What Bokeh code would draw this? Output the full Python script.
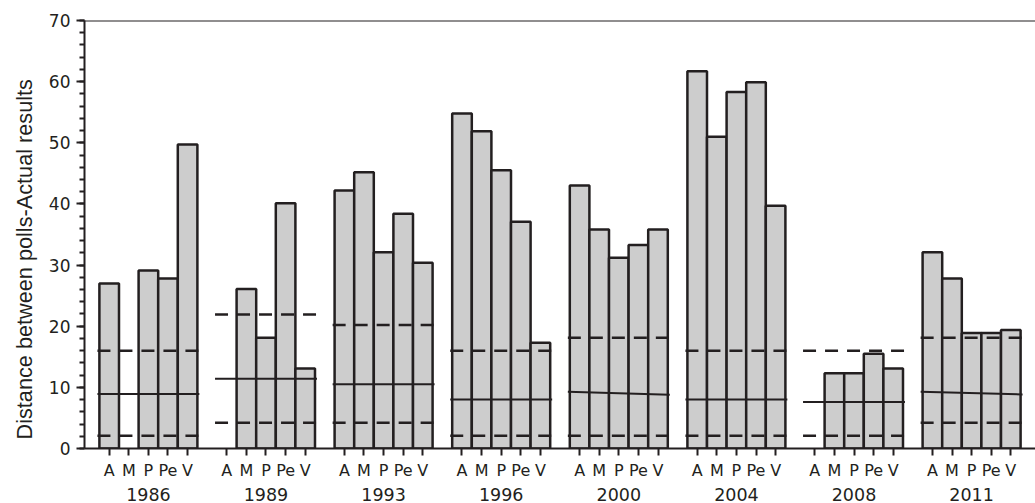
from bokeh.plotting import figure
from bokeh.models import FactorRange, Span, Range1d, SingleIntervalTicker, Title
from bokeh.embed import file_html
from bokeh.resources import INLINE

# ---- data ----
years = ["1986", "1989", "1993", "1996", "2000", "2004", "2008", "2011"]
parties = ["A", "M", "P", "Pe", "V"]

v1986 = [27.0, 0.0, 29.1, 27.8, 49.7]
v1989 = [0.0, 26.1, 18.1, 40.1, 13.1]
v1993 = [42.2, 45.2, 32.1, 38.4, 30.4]
v1996 = [54.8, 51.9, 45.5, 37.1, 17.3]
v2000 = [43.0, 35.8, 31.2, 33.3, 35.8]
v2004 = [61.7, 51.0, 58.3, 59.9, 39.7]
v2008 = [0.0, 12.3, 12.3, 15.5, 13.1]
v2011 = [32.1, 27.8, 18.9, 18.9, 19.4]
values = [v1986, v1989, v1993, v1996, v2000, v2004, v2008, v2011]

# reference lines per election (solid line start/end, dashed upper/lower)
mean_start = [8.9, 11.4, 10.5, 8.0, 9.3, 8.0, 7.6, 9.3]
mean_end = [8.9, 11.4, 10.5, 8.0, 8.8, 8.0, 7.6, 8.85]
upper = [16.0, 21.9, 20.2, 16.0, 18.1, 16.0, 16.0, 18.1]
lower = [2.1, 4.2, 4.2, 2.1, 2.1, 2.1, 2.1, 4.2]

y_title = "Distance between polls-Actual results"

INK = "#231f20"

factors = [(y, p) for y in years for p in parties]

bar_x, bar_top = [], []
for y, vals in zip(years, values):
    for p_, v in zip(parties, vals):
        if v > 0:
            bar_x.append((y, p_))
            bar_top.append(v)

p = figure(
    x_range=FactorRange(*factors, group_padding=1.0, factor_padding=0.0,
                        range_padding=0.76, range_padding_units="absolute"),
    y_range=Range1d(0, 70),
    width=1035, height=503,
    output_backend="svg", toolbar_location=None,
    min_border_left=84, min_border_right=0, min_border_top=20, min_border_bottom=54,
)
p.outline_line_color = None
p.xgrid.grid_line_color = None
p.ygrid.grid_line_color = None
p.background_fill_color = "white"
p.border_fill_color = "white"

p.vbar(x=bar_x, top=bar_top, width=1.0, bottom=0,
       fill_color="#cdcdcd", line_color=INK, line_width=2.5)

x0 = [(y, "A", -0.6) for y in years]
x1 = [(y, "V", 0.6) for y in years]
p.segment(x0=x0, y0=mean_start, x1=x1, y1=mean_end, line_color=INK, line_width=2)
p.segment(x0=x0, y0=upper, x1=x1, y1=upper, line_color=INK, line_width=2.5, line_dash="13 9")
p.segment(x0=x0, y0=lower, x1=x1, y1=lower, line_color=INK, line_width=2.5, line_dash="13 9")

p.add_layout(Span(location=70, dimension="width", line_color=INK, line_width=2))

# y axis
yax = p.yaxis[0]
yax.ticker = SingleIntervalTicker(interval=10, num_minor_ticks=5)
yax.axis_line_color = INK
yax.axis_line_width = 2
yax.major_tick_in = 0
yax.major_tick_out = 8
yax.minor_tick_in = 0
yax.minor_tick_out = 5
yax.major_tick_line_color = INK
yax.major_tick_line_width = 2
yax.minor_tick_line_color = INK
yax.minor_tick_line_width = 2
yax.major_label_text_font = "DejaVu Sans"
yax.major_label_text_font_size = "17px"
yax.major_label_text_color = INK
yax.major_label_standoff = 6

p.add_layout(Title(text=y_title, align="left", offset=9, standoff=17,
                   text_font="Liberation Sans", text_font_size="21.7px",
                   text_font_style="normal", text_color=INK), "left")

# x axis
xax = p.xaxis[0]
xax.axis_line_color = INK
xax.axis_line_width = 2
xax.major_tick_in = 0
xax.major_tick_out = 7
xax.major_tick_line_color = INK
xax.major_tick_line_width = 2
xax.major_label_text_font = "DejaVu Sans"
xax.major_label_text_font_size = "16px"
xax.major_label_text_color = INK
xax.major_label_standoff = 5
xax.group_text_font = "DejaVu Sans"
xax.group_text_font_size = "17.5px"
xax.group_text_font_style = "normal"
xax.group_text_color = INK
xax.separator_line_color = None

open("out.html", "w").write(file_html(p, INLINE))
